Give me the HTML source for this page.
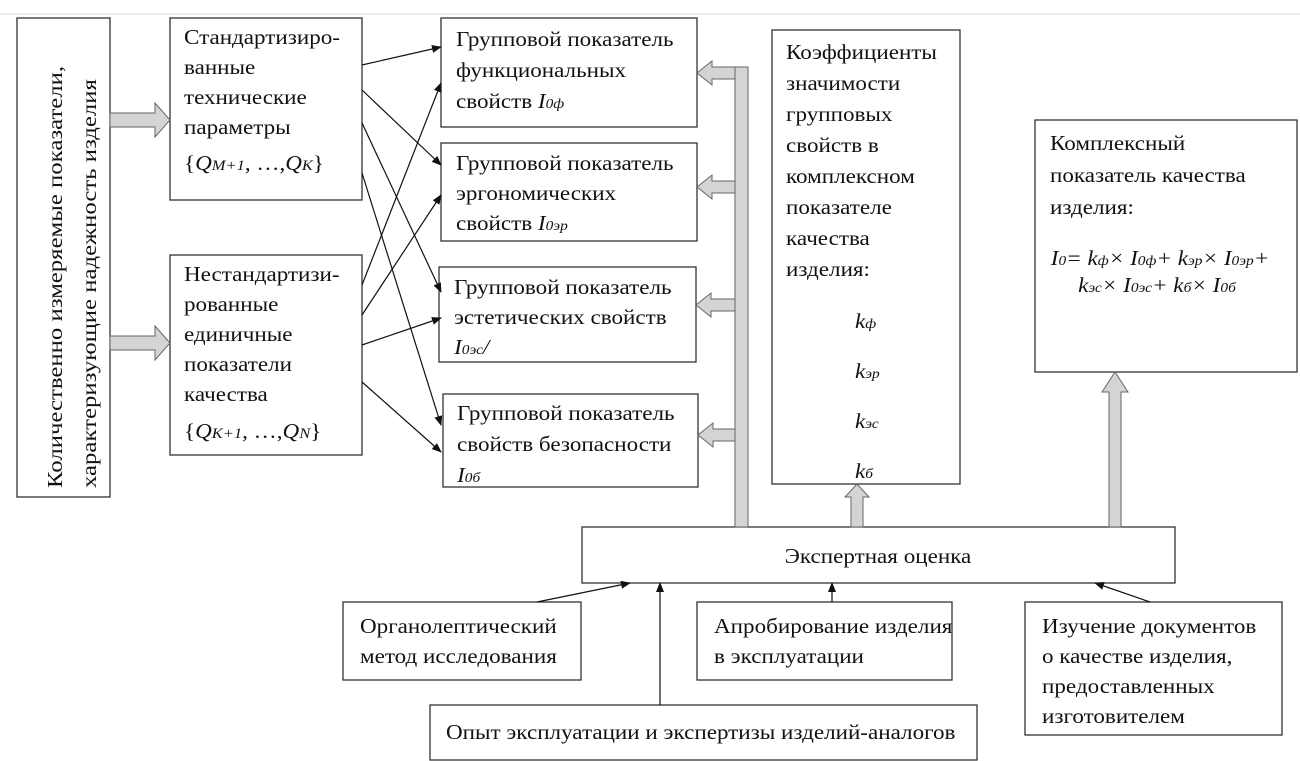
<!DOCTYPE html>
<html><head><meta charset="utf-8"><style>
html,body{margin:0;padding:0;background:#fff;}
svg{display:block;}
text{font-family:"Liberation Serif",serif;font-size:21px;fill:#111;transform-box:fill-box;transform-origin:left center;transform:scaleX(1.1);}
text.c{transform-origin:center center;}
.i{font-style:italic;}
</style></head><body>
<svg width="1300" height="761" viewBox="0 0 1300 761" xmlns="http://www.w3.org/2000/svg">
<defs>
<marker id="a" markerWidth="10" markerHeight="8" refX="9" refY="4" orient="auto" markerUnits="userSpaceOnUse"><path d="M0,0 L10,4 L0,8 z" fill="#111"/></marker>
</defs>
<line x1="0" y1="14" x2="1300" y2="14" stroke="#ececec" stroke-width="2"/>
<g fill="#fff" stroke="#333" stroke-width="1.3">
<rect x="17" y="18" width="93" height="479"/>
<rect x="170" y="18" width="192" height="182"/>
<rect x="170" y="255" width="192" height="200"/>
<rect x="441" y="18" width="256" height="109"/>
<rect x="441" y="143" width="256" height="98"/>
<rect x="439" y="267" width="257" height="95"/>
<rect x="443" y="394" width="255" height="93"/>
<rect x="772" y="30" width="188" height="454"/>
<rect x="1035" y="120" width="262" height="252"/>
<rect x="582" y="527" width="593" height="56"/>
<rect x="343" y="602" width="238" height="78"/>
<rect x="697" y="602" width="255" height="78"/>
<rect x="1025" y="602" width="257" height="133"/>
<rect x="430" y="705" width="547" height="55"/>
</g>
<g fill="#d4d4d4" stroke="#666" stroke-width="1">
<path d="M110,113 H155 V103 L170,120 L155,137 V127 H110 z"/>
<path d="M110,336 H155 V326 L170,343 L155,360 V350 H110 z"/>
<rect x="735" y="67" width="13" height="460"/>
<path d="M735,67 H712 V61 L697,73 L712,85 V79 H735 z"/>
<path d="M735,181 H712 V175 L697,187 L712,199 V193 H735 z"/>
<path d="M735,299 H711 V293 L696,305 L711,317 V311 H735 z"/>
<path d="M735,429 H713 V423 L698,435 L713,447 V441 H735 z"/>
<path d="M851,527 V497 H845 L857,484 L869,497 H863 V527 z"/>
<path d="M1109,527 V392 H1102 L1115,372 L1128,392 H1121 V527 z"/>
</g>
<g stroke="#111" stroke-width="1.2" marker-end="url(#a)">
<line x1="362" y1="65" x2="441" y2="47"/>
<line x1="362" y1="90" x2="441" y2="165"/>
<line x1="362" y1="123" x2="441" y2="292"/>
<line x1="362" y1="173" x2="441" y2="425"/>
<line x1="362" y1="285" x2="441" y2="83"/>
<line x1="362" y1="315" x2="441" y2="195"/>
<line x1="362" y1="345" x2="441" y2="318"/>
<line x1="362" y1="382" x2="441" y2="452"/>
<line x1="537" y1="602" x2="630" y2="583"/>
<line x1="660" y1="705" x2="660" y2="583"/>
<line x1="832" y1="602" x2="832" y2="583"/>
<line x1="1150" y1="602" x2="1095" y2="583"/>
</g>
<g transform="translate(62,488) rotate(-90)"><text x="0" y="0" font-size="24" style="transform:scaleX(1.18)">Количественно измеряемые показатели,</text></g>
<g transform="translate(96,488) rotate(-90)"><text x="0" y="0" font-size="24" style="transform:scaleX(1.18)">характеризующие надежность изделия</text></g>
<text x="184" y="44">Стандартизиро-</text>
<text x="184" y="74">ванные</text>
<text x="184" y="104">технические</text>
<text x="184" y="134">параметры</text>
<text x="184" y="170" font-size="23">{<tspan class="i">Q</tspan><tspan class="i" font-size="15">M+1</tspan>, …,<tspan class="i">Q</tspan><tspan class="i" font-size="15">K</tspan>}</text>
<text x="184" y="281">Нестандартизи-</text>
<text x="184" y="311">рованные</text>
<text x="184" y="341">единичные</text>
<text x="184" y="371">показатели</text>
<text x="184" y="401">качества</text>
<text x="184" y="438" font-size="23">{<tspan class="i">Q</tspan><tspan class="i" font-size="15">K+1</tspan>, …,<tspan class="i">Q</tspan><tspan class="i" font-size="15">N</tspan>}</text>
<text x="456" y="46">Групповой показатель</text>
<text x="456" y="77">функциональных</text>
<text x="456" y="108">свойств <tspan class="i">I</tspan><tspan class="i" font-size="14">0ф</tspan></text>
<text x="456" y="170">Групповой показатель</text>
<text x="456" y="200">эргономических</text>
<text x="456" y="230">свойств <tspan class="i">I</tspan><tspan class="i" font-size="14">0эр</tspan></text>
<text x="454" y="294">Групповой показатель</text>
<text x="454" y="324">эстетических свойств</text>
<text x="454" y="354" class="i">I<tspan font-size="14">0эс</tspan>/</text>
<text x="457" y="420">Групповой показатель</text>
<text x="457" y="451">свойств безопасности</text>
<text x="457" y="482" class="i">I<tspan font-size="14">0б</tspan></text>
<text x="786" y="59">Коэффициенты</text>
<text x="786" y="90">значимости</text>
<text x="786" y="121">групповых</text>
<text x="786" y="152">свойств в</text>
<text x="786" y="183">комплексном</text>
<text x="786" y="214">показателе</text>
<text x="786" y="245">качества</text>
<text x="786" y="276">изделия:</text>
<text x="855" y="328" class="i">k<tspan font-size="14">ф</tspan></text>
<text x="855" y="378" class="i">k<tspan font-size="14">эр</tspan></text>
<text x="855" y="428" class="i">k<tspan font-size="14">эс</tspan></text>
<text x="855" y="478" class="i">k<tspan font-size="14">б</tspan></text>
<text x="1050" y="150">Комплексный</text>
<text x="1050" y="182">показатель качества</text>
<text x="1050" y="214">изделия:</text>
<text x="1160" y="265" text-anchor="middle" class="i c">I<tspan font-size="14">0</tspan>= k<tspan font-size="14">ф</tspan>× I<tspan font-size="14">0ф</tspan>+ k<tspan font-size="14">эр</tspan>× I<tspan font-size="14">0эр</tspan>+</text>
<text x="1157" y="292" text-anchor="middle" class="i c">k<tspan font-size="14">эс</tspan>× I<tspan font-size="14">0эс</tspan>+ k<tspan font-size="14">б</tspan>× I<tspan font-size="14">0б</tspan></text>
<text x="878" y="563" text-anchor="middle" font-size="27" class="c">Экспертная оценка</text>
<text x="360" y="633">Органолептический</text>
<text x="360" y="663">метод исследования</text>
<text x="714" y="633">Апробирование изделия</text>
<text x="714" y="663">в эксплуатации</text>
<text x="1042" y="633">Изучение документов</text>
<text x="1042" y="663">о качестве изделия,</text>
<text x="1042" y="693">предоставленных</text>
<text x="1042" y="723">изготовителем</text>
<text x="446" y="739">Опыт эксплуатации и экспертизы изделий-аналогов</text>
</svg>
</body></html>
